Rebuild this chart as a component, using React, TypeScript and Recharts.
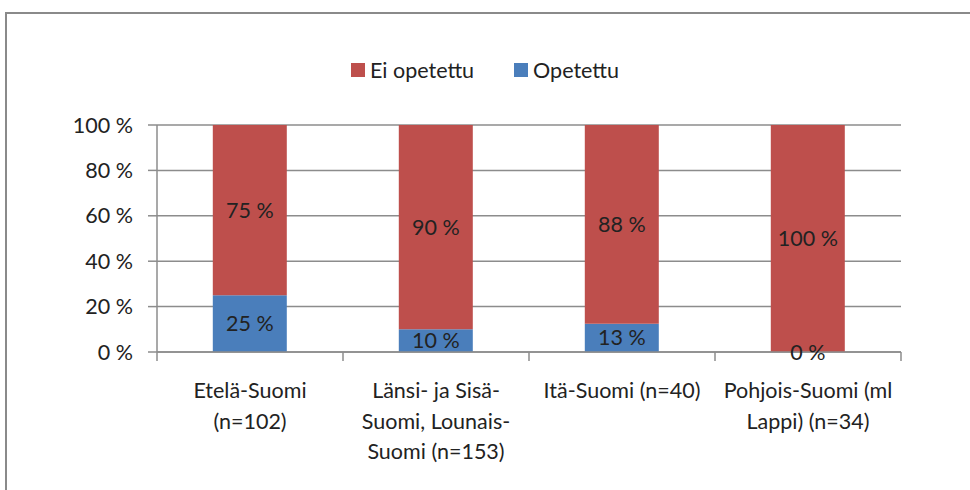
import { BarChart, Bar, XAxis, YAxis, CartesianGrid, Legend, LabelList } from "recharts";

const regions = [
  "Etelä-Suomi\n(n=102)",
  "Länsi- ja Sisä-\nSuomi, Lounais-\nSuomi (n=153)",
  "Itä-Suomi (n=40)",
  "Pohjois-Suomi (ml\nLappi) (n=34)",
];
const opetettu = [25, 10, 12.5, 0];
const eiOpetettu = [75, 90, 87.5, 100];
const yTicks = [0, 20, 40, 60, 80, 100];

const data = regions.map((name, i) => ({
  name,
  opetettu: opetettu[i],
  eiOpetettu: eiOpetettu[i],
}));

const FONT = "Lato, 'Open Sans', sans-serif";
const FS = 21.5;
const TEXT = "#222";
const GRID = "#8c8c8c";
const RED = "#BE4F4C";
const BLUE = "#4A7EBB";

const W = 970;
const H = 490;
const LEFT = 157;
const RIGHT = 69;

function XTick(props: any) {
  const { x, y, payload } = props;
  const band = (W - LEFT - RIGHT) / regions.length;
  const lines = String(payload.value).split("\n");
  const isLast = payload.index === regions.length - 1;
  return (
    <g>
      <line x1={x - band / 2} x2={x - band / 2} y1={352} y2={361} stroke={GRID} strokeWidth={1.5} />
      {isLast && (
        <line x1={x + band / 2} x2={x + band / 2} y1={352} y2={361} stroke={GRID} strokeWidth={1.5} />
      )}
      <text x={x} y={y} textAnchor="middle" fill={TEXT} fontSize={FS} fontFamily={FONT}>
        {lines.map((l, i) => (
          <tspan key={i} x={x} dy={i === 0 ? 0 : 30.5}>
            {l}
          </tspan>
        ))}
      </text>
    </g>
  );
}

// zero-height segments get no label from recharts, so draw it at the stack base
function ZeroLabel(props: any) {
  const { x, y, width, height, value } = props;
  if (Number(value) !== 0) return null;
  return (
    <text x={x + width / 2} y={y + height} textAnchor="middle" dominantBaseline="central" fill={TEXT} fontSize={FS} fontFamily={FONT}>
      {`${value} %`}
    </text>
  );
}

function LegendContent() {
  const items = [
    { label: "Ei opetettu", color: RED },
    { label: "Opetettu", color: BLUE },
  ];
  return (
    <div style={{ display: "flex", justifyContent: "center", gap: 40, fontFamily: FONT, fontSize: FS, color: TEXT }}>
      {items.map((it) => (
        <div key={it.label} style={{ display: "flex", alignItems: "center", gap: 5 }}>
          <span style={{ width: 14, height: 14, background: it.color, display: "inline-block" }} />
          <span>{it.label}</span>
        </div>
      ))}
    </div>
  );
}

const fmt = (v: any) => `${Math.round(Number(v))} %`;

export default function App() {
  return (
    <div style={{ position: "fixed", left: 0, top: 0, width: W, height: H, overflow: "hidden", background: "#fff" }}>
      <div
        style={{
          position: "absolute",
          left: 5,
          top: 12,
          width: W + 20,
          height: H + 20,
          borderTop: "2px solid #8a8a8a",
          borderLeft: "2px solid #8a8a8a",
        }}
      />
      <div style={{ position: "absolute", left: 0, top: 0 }}>
        <BarChart
          width={W}
          height={H}
          data={data}
          margin={{ top: 125, right: RIGHT, bottom: 0, left: 0 }}
          barCategoryGap="30%"
        >
          <CartesianGrid vertical={false} stroke={GRID} strokeWidth={1.5} />
          <XAxis
            dataKey="name"
            interval={0}
            height={138}
            axisLine={{ stroke: GRID, strokeWidth: 1.5 }}
            tickLine={false}
            tick={<XTick />}
            tickMargin={40}
          />
          <YAxis
            domain={[0, 100]}
            ticks={yTicks}
            width={LEFT}
            tickSize={9}
            tickMargin={15}
            axisLine={{ stroke: GRID, strokeWidth: 1.5 }}
            tickLine={{ stroke: GRID, strokeWidth: 1.5 }}
            tickFormatter={(v) => `${v} %`}
            tick={{ fill: TEXT, fontSize: FS, fontFamily: FONT }}
          />
          <Legend
            verticalAlign="middle"
            align="center"
            content={<LegendContent />}
            wrapperStyle={{ top: 57, left: 0, width: W }}
          />
          <Bar dataKey="opetettu" stackId="a" fill={BLUE} isAnimationActive={false}>
            <LabelList dataKey="opetettu" position="center" formatter={fmt} fill={TEXT} fontSize={FS} fontFamily={FONT} />
          </Bar>
          <Bar dataKey="eiOpetettu" stackId="a" fill={RED} isAnimationActive={false}>
            <LabelList dataKey="eiOpetettu" position="center" formatter={fmt} fill={TEXT} fontSize={FS} fontFamily={FONT} />
            <LabelList dataKey="opetettu" content={<ZeroLabel />} />
          </Bar>
        </BarChart>
      </div>
    </div>
  );
}
